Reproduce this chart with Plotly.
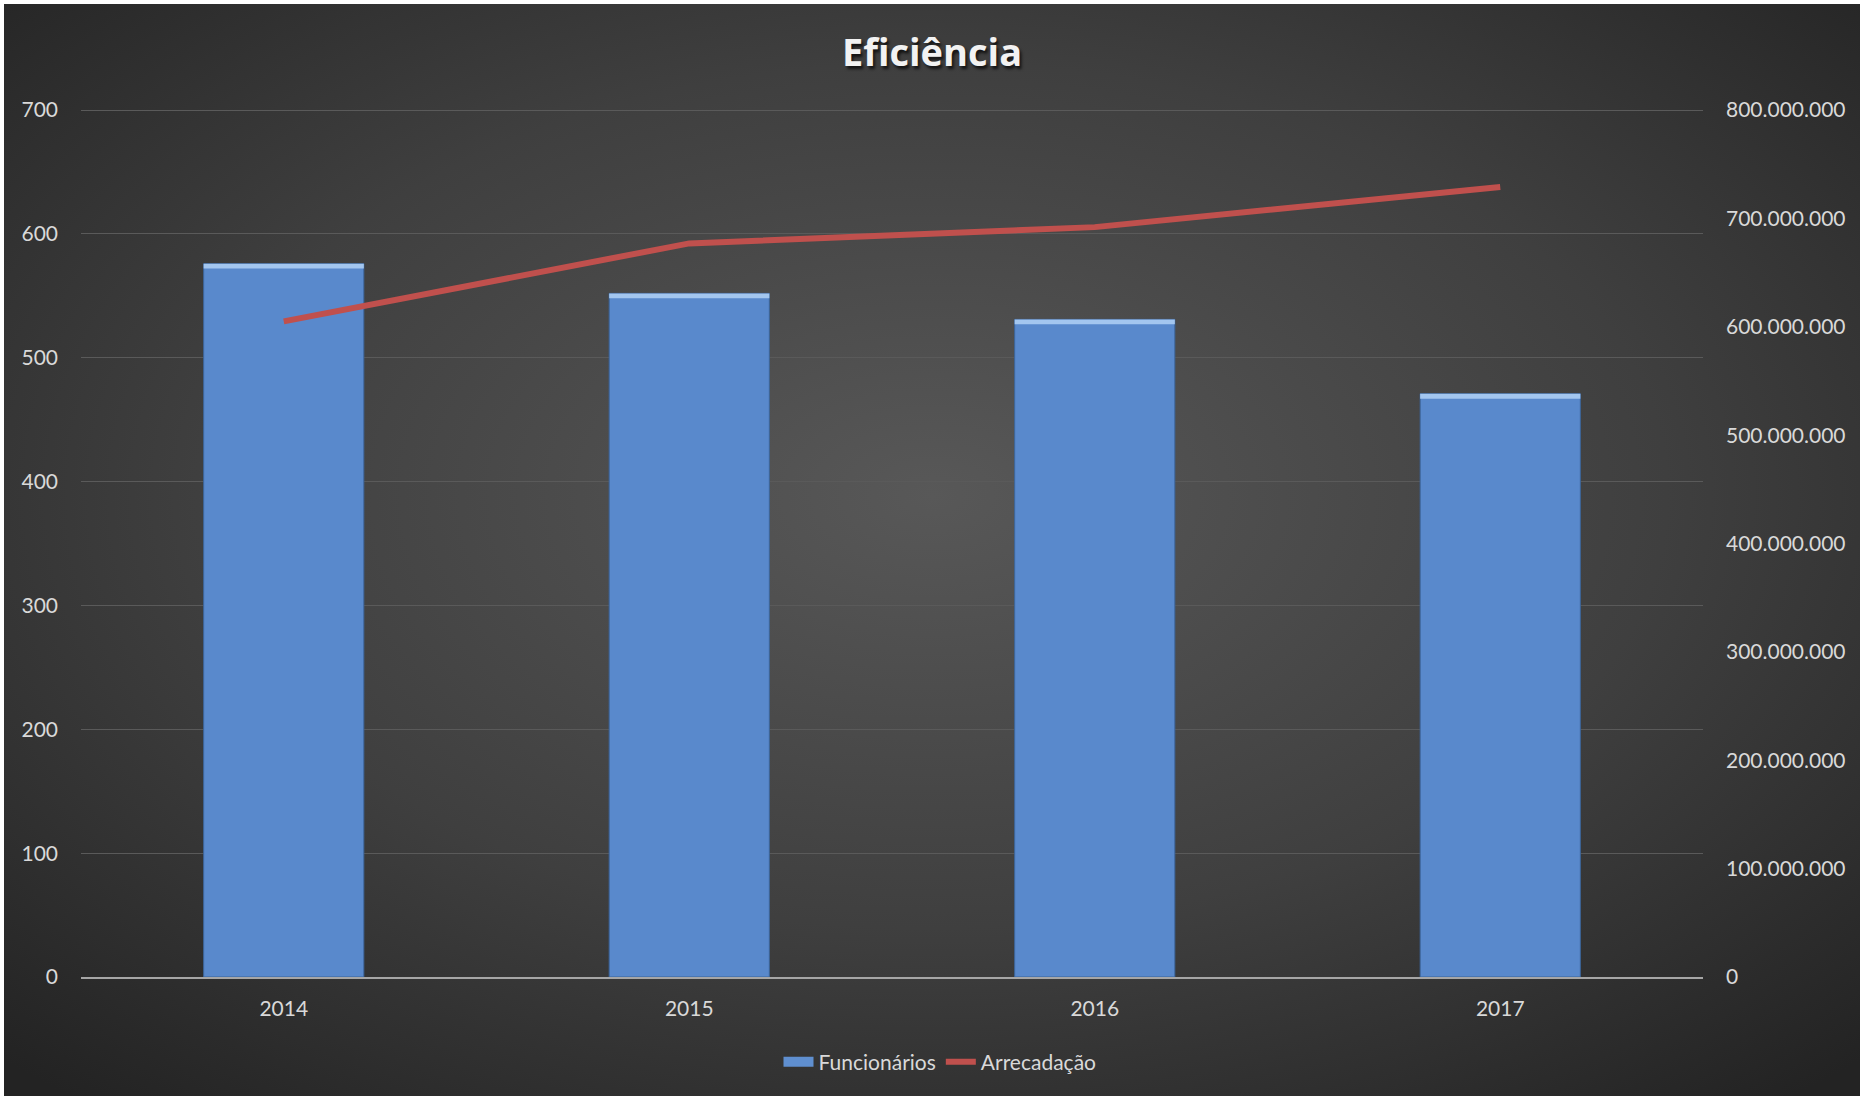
import base64
import plotly.graph_objects as go

years = ["2014", "2015", "2016", "2017"]
funcionarios = [576, 552, 531, 471]
arrecadacao = [605_000_000, 677_000_000, 692_000_000, 729_000_000]
left_ticks = [0, 100, 200, 300, 400, 500, 600, 700]
right_ticks = [0, 100_000_000, 200_000_000, 300_000_000, 400_000_000,
               500_000_000, 600_000_000, 700_000_000, 800_000_000]

W, H = 1860, 1096
ML, MR, MT, MB = 81, 157, 107, 119
PW, PH = W - ML - MR, H - MT - MB
Y1MAX = 702.5
Y2MAX = 800_000_000 * Y1MAX / 700

svg = f'''<svg xmlns="http://www.w3.org/2000/svg" width="{W-4}" height="{H-4}" preserveAspectRatio="none">
<defs><radialGradient id="g" cx="50%" cy="45%" r="72%">
<stop offset="0%" stop-color="#585858"/><stop offset="55%" stop-color="#3f3f3f"/><stop offset="100%" stop-color="#232323"/>
</radialGradient></defs><rect width="100%" height="100%" fill="url(#g)"/></svg>'''
bg_src = "data:image/svg+xml;base64," + base64.b64encode(svg.encode()).decode()

txt = "#d9d9d9"
fnt = "Lato, 'Open Sans', sans-serif"
strip = 4
fig = go.Figure()
fig.add_trace(go.Bar(
    x=years, y=funcionarios, name="Funcionários", showlegend=False,
    legendgroup="f",
    marker=dict(color="#5989cc", line=dict(color="#3c659b", width=1)),
    yaxis="y",
))
fig.add_trace(go.Bar(
    x=years, y=[strip] * len(years), base=[v - strip for v in funcionarios],
    showlegend=False, hoverinfo="skip", legendgroup="f",
    marker=dict(color="#a3c6ef", line=dict(width=0)),
    yaxis="y",
))
fig.add_trace(go.Scatter(
    x=[None], y=[None], name="Funcionários", mode="lines", legendgroup="f",
    line=dict(color="#5f8fd0", width=10), yaxis="y",
))
fig.add_trace(go.Scatter(
    x=years, y=arrecadacao, name="Arrecadação", mode="lines",
    line=dict(color="#c0504d", width=6), yaxis="y2",
))

fig.update_layout(
    width=W, height=H,
    margin=dict(l=ML, r=MR, t=MT, b=MB),
    paper_bgcolor="white", plot_bgcolor="rgba(0,0,0,0)",
    separators=",.",
    barmode="overlay",
    font=dict(family=fnt, color=txt, size=21),
    title=dict(text="<b>Eficiência</b>", x=932 / W, xref="container",
               xanchor="center", y=1 - 53 / H, yanchor="middle",
               font=dict(size=38, color="#f2f2f2", family="'Open Sans', sans-serif",
                         shadow="2px 3px 3px rgba(0,0,0,0.7)")),
    bargap=0.605,
    showlegend=True,
    legend=dict(orientation="h", xref="container", yref="container",
                x=940 / W, xanchor="center", y=1 - 1062 / H, yanchor="middle",
                font=dict(size=21, color=txt), bgcolor="rgba(0,0,0,0)",
                tracegroupgap=0),
    xaxis=dict(type="category", showgrid=False, showline=True,
               linecolor="#a6a6a6", linewidth=2, ticks="",
               ticklabelstandoff=12, tickfont=dict(size=21, color=txt)),
    yaxis=dict(range=[0, Y1MAX], tickvals=left_ticks, showgrid=True,
               gridcolor="#5a5a5a", gridwidth=1, zeroline=False,
               showline=False, ticklabelstandoff=22,
               tickfont=dict(size=21, color=txt)),
    yaxis2=dict(range=[0, Y2MAX], tickvals=right_ticks, tickformat=",d",
                overlaying="y", side="right", showgrid=False, zeroline=False,
                showline=False, ticklabelstandoff=22,
                tickfont=dict(size=21, color=txt)),
    images=[dict(source=bg_src, xref="paper", yref="paper",
                 x=-(ML - 4) / PW, y=1 + (MT - 4) / PH,
                 sizex=(W - 4) / PW, sizey=(H - 4) / PH,
                 xanchor="left", yanchor="top", sizing="stretch",
                 layer="below")],
)

fig.write_html("out.html")
